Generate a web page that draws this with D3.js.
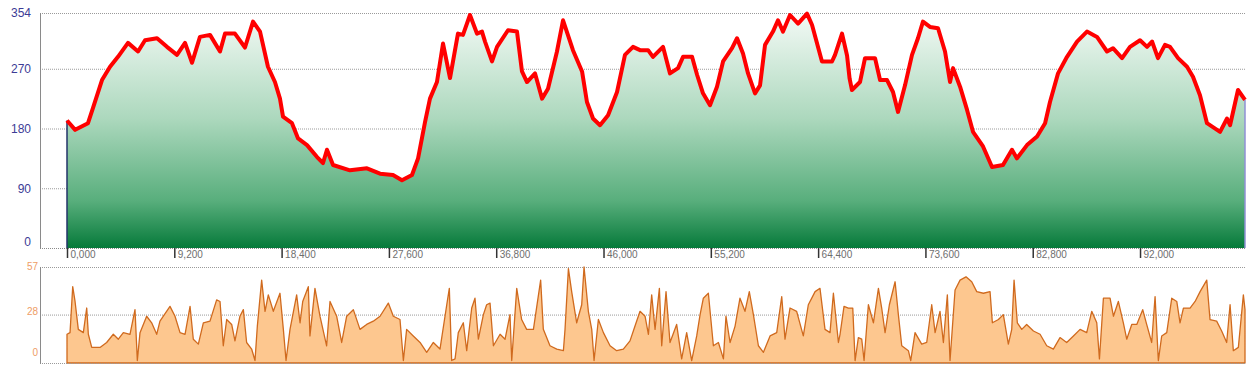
<!DOCTYPE html>
<html>
<head>
<meta charset="utf-8">
<script src="https://cdn.jsdelivr.net/npm/d3@7"></script>
<style>
body{margin:0;background:#fff;}
svg{display:block;font-family:"DejaVu Sans",sans-serif;}
</style>
</head>
<body>
<script>
let width = 1257, height = 374;

// elevation profile (distance km, altitude m)
let elevDist = [0,0.7,1.8,2.23,3.0,3.69,4.37,5.23,6.09,6.69,7.72,8.57,9.43,10.12,10.72,11.4,12.26,13.12,13.55,14.4,15.26,15.95,16.55,17.23,17.83,18.26,18.52,19.29,19.81,20.58,21.44,21.95,22.29,22.81,24.26,25.72,26.84,27.95,28.72,29.58,30.1,30.7,31.12,31.72,32.24,32.84,33.52,33.95,34.55,35.15,35.58,35.84,36.44,36.87,37.81,38.58,39.01,39.44,40.13,40.73,41.24,42.01,42.53,43.38,44.16,44.58,45.1,45.7,46.39,47.16,47.84,48.53,49.13,49.82,50.24,51.1,51.7,52.39,52.82,53.59,54.02,54.53,55.13,55.73,56.25,57.02,57.45,57.96,58.39,58.99,59.42,59.85,60.53,60.96,61.39,61.99,62.68,63.45,63.88,64.73,65.59,65.85,66.45,66.88,67.1,67.3,67.99,68.42,69.28,69.71,70.31,70.82,71.25,71.85,72.45,72.96,73.39,73.99,74.68,75.28,75.71,75.97,76.57,77.17,77.68,78.54,79.31,80.25,81.02,81.45,82.31,83.17,83.86,84.28,84.97,85.74,86.6,87.45,88.31,89.17,89.68,90.46,91.14,92.0,92.6,93.03,93.54,94.14,94.57,95.26,96.03,96.54,97.14,97.74,98.86,99.46,99.72,100.4,101.0];
let elevAlt = [192,178,188,211,253,273,288,309,296,313,316,303,291,309,279,318,321,296,323,323,302,341,326,273,250,225,198,188,165,155,137,128,148,125,117,120,112,110,102,110,135,190,225,250,308,256,323,321,351,323,326,311,281,303,328,326,266,250,263,225,240,296,343,298,266,220,195,185,200,235,291,303,298,298,288,303,263,271,288,288,261,233,215,243,281,301,316,293,263,233,245,306,326,343,326,351,338,353,336,281,281,291,323,290,255,238,250,286,286,253,253,235,205,245,291,316,341,333,331,296,250,271,243,208,175,153,122,125,148,135,155,168,188,220,263,288,311,326,318,296,301,286,303,313,303,311,286,306,303,286,273,258,230,188,175,195,185,238,223];

// lower panel series (distance km, value)
let speedDist = [0,0.26,0.49,0.69,0.97,1.4,1.69,1.83,2.12,2.83,3.4,3.97,4.4,4.83,5.4,5.83,6.03,6.26,6.83,7.26,7.69,7.97,8.83,9.26,9.69,10.12,10.55,10.83,11.26,11.69,12.26,12.83,13.12,13.4,13.69,14.12,14.4,14.83,15.12,15.4,15.83,16.12,16.32,16.69,16.98,17.26,17.69,18.26,18.55,18.78,19.12,19.69,19.98,20.21,20.69,20.83,21.26,21.69,22.26,22.55,23.12,23.55,23.98,24.55,25.12,25.69,26.26,26.84,27.55,27.98,28.55,28.84,29.12,29.69,30.27,30.84,31.41,31.98,32.56,32.78,32.98,33.27,33.55,33.98,34.27,34.7,34.98,35.27,35.7,35.98,36.27,36.56,37.13,37.56,37.98,38.13,38.56,38.98,39.41,39.99,40.61,40.84,41.41,41.99,42.56,42.7,42.99,43.27,43.7,44.13,44.33,44.7,44.99,45.19,45.56,45.99,46.56,47.13,47.7,48.27,48.7,49.13,49.56,49.85,50.13,50.42,50.79,50.99,51.36,51.7,52.27,52.7,53.13,53.56,53.99,54.28,54.56,54.99,55.42,55.85,56.28,56.5,56.85,57.28,57.7,58.13,58.5,58.85,59.28,59.71,60.28,60.85,61.28,61.56,61.99,62.56,63.13,63.56,64.14,64.56,64.99,65.42,65.71,66.14,66.28,66.62,66.99,67.37,67.57,67.85,68.14,68.34,68.71,69.14,69.57,69.85,70.14,70.51,71.0,71.28,71.57,72.14,72.34,72.71,73.28,73.71,74.14,74.43,74.85,75.14,75.48,75.71,76.14,76.57,77.08,77.57,78.0,78.57,79.14,79.34,79.86,80.28,80.71,81.0,81.2,81.48,81.86,82.28,82.86,83.43,84.0,84.57,85.14,85.71,86.29,86.86,87.43,87.86,88.29,88.52,88.86,89.43,89.72,90.14,90.57,90.86,91.29,91.72,92.23,92.57,93.0,93.29,93.57,93.86,94.29,94.72,95.15,95.43,95.72,96.29,96.72,97.15,97.72,98.0,98.57,99.0,99.43,99.72,100.0,100.43,100.86,101.0];
let speedVal = [16,17,45,36,19,17,32,16,8,8,11,16,13,17,16,31,0,17,27,23,16,24,33,27,17,16,33,13,10,23,24,37,36,9,25,22,12,27,31,11,7,0,21,49,30,40,30,41,19,0,19,40,23,36,45,15,44,27,9,36,27,11,27,31,19,22,24,27,35,27,25,0,19,15,11,5,11,7,34,44,0,1,17,23,6,32,38,13,28,34,35,9,16,13,28,0,44,25,19,19,49,19,9,7,6,19,56,42,23,34,57,30,19,0,25,17,9,6,7,12,21,30,27,16,40,19,44,9,42,11,22,1,17,0,15,28,38,41,9,11,1,27,11,21,38,30,42,28,9,5,15,17,39,13,32,30,15,34,42,44,19,17,41,11,16,33,32,32,0,14,13,0,34,23,44,32,17,34,48,28,9,6,0,17,10,11,34,17,30,11,40,0,43,49,51,48,42,41,42,23,25,28,10,19,49,23,19,22,18,16,9,7,14,11,15,19,17,30,23,1,38,38,27,36,23,13,22,22,31,22,11,39,0,15,17,38,36,23,32,32,36,42,49,25,24,18,11,34,6,8,40,31];

let xTicks = [0,9.2,18.4,27.6,36.8,46,55.2,64.4,73.6,82.8,92];
let xTickLabels = ["0,000","9,200","18,400","27,600","36,800","46,000","55,200","64,400","73,600","82,800","92,000"];
let elevTicks = [0,90,180,270,354];
let speedTicks = [0,28,57];

let svg = d3.select('body').append('svg').attr('width',width).attr('height',height);

let x = d3.scaleLinear().domain([0,101]).range([67,1245]);
let yTop = d3.scaleLinear().domain([0,354]).range([248,13]);
let yBot = d3.scaleLinear().domain([-1.5,57]).range([363,267]);

// gradient for elevation fill
let defs = svg.append('defs');
let grad = defs.append('linearGradient').attr('id','elevGrad')
    .attr('gradientUnits','userSpaceOnUse')
    .attr('x1',0).attr('y1',yTop(354)).attr('x2',0).attr('y2',yTop(0));
grad.append('stop').attr('offset','0%').attr('stop-color','#f4faf6');
grad.append('stop').attr('offset','45%').attr('stop-color','#acd8bd');
grad.append('stop').attr('offset','80%').attr('stop-color','#58ae7c');
grad.append('stop').attr('offset','100%').attr('stop-color','#067a3a');

let elev = elevDist.map((d,i)=>({d:d,v:elevAlt[i]}));
let speed = speedDist.map((d,i)=>({d:d,v:speedVal[i]}));

// ---- top panel ----
let topPanel = svg.append('g');
topPanel.selectAll('.grid').data(elevTicks.filter(t=>t>0)).enter().append('line')
    .attr('x1',40).attr('x2',1245)
    .attr('y1',d=>yTop(d)+0.5).attr('y2',d=>yTop(d)+0.5)
    .attr('stroke','#9a9a9a').attr('stroke-dasharray','1,1');

topPanel.append('path').datum(elev)
    .attr('fill','url(#elevGrad)')
    .attr('d',d3.area().x(d=>x(d.d)).y0(yTop(0)).y1(d=>yTop(d.v)));

// side edges of the area
topPanel.append('line')
    .attr('x1',x(elevDist[0])).attr('x2',x(elevDist[0]))
    .attr('y1',yTop(elevAlt[0])).attr('y2',yTop(0))
    .attr('stroke','#23336a').attr('stroke-width',1.5);
topPanel.append('line')
    .attr('x1',x(elevDist[elevDist.length-1])).attr('x2',x(elevDist[elevDist.length-1]))
    .attr('y1',yTop(elevAlt[elevAlt.length-1])).attr('y2',yTop(0))
    .attr('stroke','#8f90d4').attr('stroke-width',1.5);

topPanel.append('line').attr('x1',40).attr('x2',1245).attr('y1',yTop(0)+0.5).attr('y2',yTop(0)+0.5)
    .attr('stroke','#8a8a8a').attr('stroke-dasharray','1,1');
topPanel.append('line').attr('x1',40.5).attr('x2',40.5).attr('y1',yTop(354)).attr('y2',yTop(0)+1)
    .attr('stroke','#8a8a8a');

topPanel.append('path').datum(elev)
    .attr('fill','none').attr('stroke','#ff0000').attr('stroke-width',4)
    .attr('stroke-linejoin','round')
    .attr('d',d3.line().x(d=>x(d.d)).y(d=>yTop(d.v)));

let yAxisTop = topPanel.append('g').attr('transform','translate(31,0)')
    .call(d3.axisLeft(yTop).tickValues(elevTicks).tickSize(0).tickPadding(0));
yAxisTop.select('.domain').remove();
yAxisTop.selectAll('text')
    .attr('fill','#3c3c96').style('font-size','12px')
    .attr('dy',d=>d===0?'-0.2em':'0.32em');

let xAxis = topPanel.append('g').attr('transform','translate(0,'+yTop(0)+')')
    .call(d3.axisBottom(x).tickValues(xTicks).tickFormat((d,i)=>xTickLabels[i]).tickSize(10).tickPadding(0));
xAxis.select('.domain').remove();
xAxis.selectAll('line').attr('stroke','#333').attr('stroke-width',1.5);
xAxis.selectAll('text')
    .attr('text-anchor','start').attr('x',3).attr('y',3)
    .attr('fill','#6e6e6e').style('font-size','10px');

// ---- bottom panel ----
let botPanel = svg.append('g');
botPanel.selectAll('.grid').data(speedTicks.filter(t=>t>0)).enter().append('line')
    .attr('x1',40).attr('x2',1245)
    .attr('y1',d=>yBot(d)+0.5).attr('y2',d=>yBot(d)+0.5)
    .attr('stroke','#9a9a9a').attr('stroke-dasharray','1,1');

botPanel.append('path').datum(speed)
    .attr('fill','#fdc78f').attr('stroke','#d06a1e').attr('stroke-width',1.3)
    .attr('stroke-linejoin','round')
    .attr('d',d3.area().x(d=>x(d.d)).y0(yBot(-1.5)).y1(d=>yBot(d.v)));

botPanel.append('line').attr('x1',40).attr('x2',1245).attr('y1',yBot(-1.5)+0.5).attr('y2',yBot(-1.5)+0.5)
    .attr('stroke','#9a9a9a').attr('stroke-dasharray','1,1');
botPanel.append('line').attr('x1',40.5).attr('x2',40.5).attr('y1',yBot(57)).attr('y2',yBot(-1.5)+1)
    .attr('stroke','#8a8a8a');

let yAxisBot = botPanel.append('g').attr('transform','translate(38,0)')
    .call(d3.axisLeft(yBot).tickValues(speedTicks).tickSize(0).tickPadding(0));
yAxisBot.select('.domain').remove();
yAxisBot.selectAll('text')
    .attr('fill','#ee9d66').style('font-size','10px')
    .attr('dy',d=>d===0?'-0.5em':(d===28?'0em':'0.2em'));
</script>
</body>
</html>
